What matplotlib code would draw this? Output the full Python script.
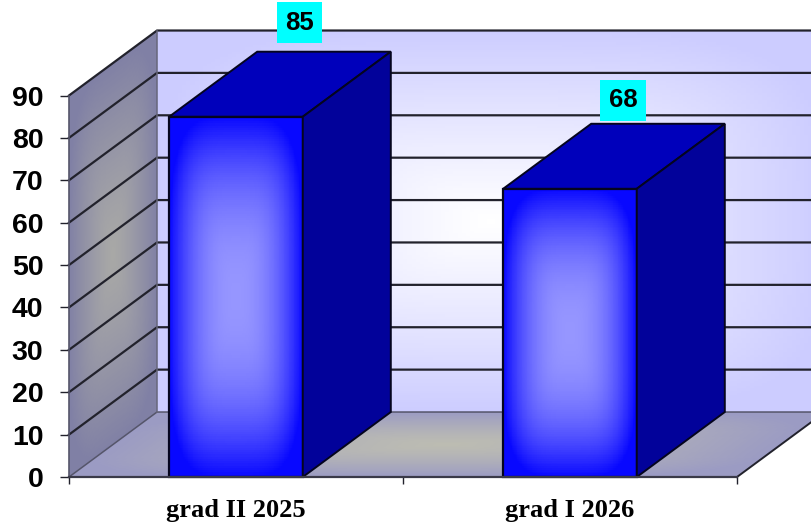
import numpy as np
import matplotlib
matplotlib.use('Agg')
import matplotlib.pyplot as plt
from matplotlib.patches import Polygon

categories = ['grad II 2025', 'grad I 2026']
values = [85, 68]
y_ticks = [0, 10, 20, 30, 40, 50, 60, 70, 80, 90]
x_edges = [-0.5, 0.5, 1.5]

# 3d look: offset of the back plane, in data units
dx = 88 / 334
dy = 65 / 4.24
bar_w = 0.4
dark = '#22222c'


def gradient_quad(ax, corners, edge, center, power=1.0, zorder=1):
    # rounded path gradient, corners are ll, lr, ur, ul
    n = 160
    u = np.linspace(0, 1, n + 1)
    uu, vv = np.meshgrid(u, u)
    ll, lr, ur, ul = [np.array(c) for c in corners]
    X = (1 - uu) * (1 - vv) * ll[0] + uu * (1 - vv) * lr[0] + uu * vv * ur[0] + (1 - uu) * vv * ul[0]
    Y = (1 - uu) * (1 - vv) * ll[1] + uu * (1 - vv) * lr[1] + uu * vv * ur[1] + (1 - uu) * vv * ul[1]
    mid = (u[:-1] + u[1:]) / 2
    mu, mv = np.meshgrid(mid, mid)
    d = (np.abs(2 * mu - 1) ** 4 + np.abs(2 * mv - 1) ** 4) ** 0.25
    t = np.clip(d, 0, 1) ** power
    edge = np.array(edge) / 255
    center = np.array(center) / 255
    rgb = center + (edge - center) * t[..., None]
    ax.pcolormesh(X, Y, rgb, shading='flat', zorder=zorder, clip_on=False,
                  antialiased=False, linewidth=0, rasterized=True)


fig = plt.figure(figsize=(8.12, 5.22), dpi=100)
ax = fig.add_axes([69 / 812, 45 / 522, 668 / 812, 381.5 / 522])
ax.patch.set_visible(False)

x0, x1 = x_edges[0], x_edges[-1]
y_top = y_ticks[-1]

# back wall
gradient_quad(ax, [(x0 + dx, dy), (x1 + dx, dy), (x1 + dx, y_top + dy), (x0 + dx, y_top + dy)],
              (204, 204, 255), (255, 255, 255), power=1.1)
# side wall
gradient_quad(ax, [(x0, 0), (x0 + dx, dy), (x0 + dx, y_top + dy), (x0, y_top)],
              (128, 128, 165), (168, 168, 166), power=1.3)
# floor
gradient_quad(ax, [(x0, 0), (x1, 0), (x1 + dx, dy), (x0 + dx, dy)],
              (155, 155, 195), (188, 188, 178), power=1.3)

# grid lines run over the side wall and then along the back wall
for v in y_ticks[1:]:
    ax.plot([x0, x0 + dx, x1 + dx], [v, v + dy, v + dy], color=dark, lw=1.6,
            zorder=2, clip_on=False, solid_joinstyle='miter')
ax.plot([x0, x0 + dx, x1 + dx], [0, dy, dy], color='#55556a', lw=1.1, zorder=2, clip_on=False)
ax.plot([x0 + dx, x0 + dx], [dy, y_top + dy], color='#66667a', lw=1.1, zorder=2, clip_on=False)
ax.plot([x1, x1 + dx], [0, dy], color=dark, lw=1.4, zorder=2, clip_on=False)

# bars
for i, val in enumerate(values):
    left = i - bar_w / 2
    right = i + bar_w / 2
    gradient_quad(ax, [(left, 0), (right, 0), (right, val), (left, val)],
                  (8, 8, 255), (150, 150, 255), power=2.2, zorder=4)
    ax.add_patch(Polygon([(left, 0), (right, 0), (right, val), (left, val)], closed=True,
                         fill=False, ec='#05051e', lw=1.6, zorder=5, clip_on=False))
    ax.add_patch(Polygon([(left, val), (right, val), (right + dx, val + dy), (left + dx, val + dy)],
                         closed=True, fc='#0000bb', ec='#05051e', lw=1.4, zorder=5, clip_on=False))
    ax.add_patch(Polygon([(right, 0), (right + dx, dy), (right + dx, val + dy), (right, val)],
                         closed=True, fc='#02029a', ec='#05051e', lw=1.4, zorder=5, clip_on=False))

# value labels
label_dx = [63.5 / 334, 53 / 334]
label_dy = [94 / 4.24, 88.5 / 4.24]
for i, val in enumerate(values):
    ax.text(i + label_dx[i], val + label_dy[i], str(val), ha='center', va='center',
            fontsize=18.5, fontweight='bold', family='Liberation Sans', color='black', zorder=7,
            clip_on=False, bbox=dict(boxstyle='square,pad=0.32', fc='#00ffff', ec='none'))

ax.set_xlim(x0, x1)
ax.set_ylim(0, y_top)

ax.set_yticks(y_ticks)
ax.set_yticklabels([str(v) for v in y_ticks], fontsize=20.5, fontweight='bold',
                   family='Liberation Sans')
ax.tick_params(axis='y', length=6.5, width=1.0, color=dark, pad=12)

ax.set_xticks(x_edges)
ax.set_xticklabels([])
ax.set_xticks([0, 1], minor=True)
ax.set_xticklabels(categories, minor=True, fontsize=19, fontweight='bold',
                   family='Liberation Serif')
ax.tick_params(axis='x', which='major', length=5, width=1.0, color=dark)
ax.tick_params(axis='x', which='minor', length=0, pad=15.5)

for s in ['top', 'right']:
    ax.spines[s].set_visible(False)
ax.spines['left'].set_color('#55556a')
ax.spines['left'].set_linewidth(1.2)
ax.spines['bottom'].set_color('#3a3a48')
ax.spines['bottom'].set_linewidth(1.6)
ax.spines['bottom'].set_zorder(6)

fig.savefig('out.png', dpi=100)
